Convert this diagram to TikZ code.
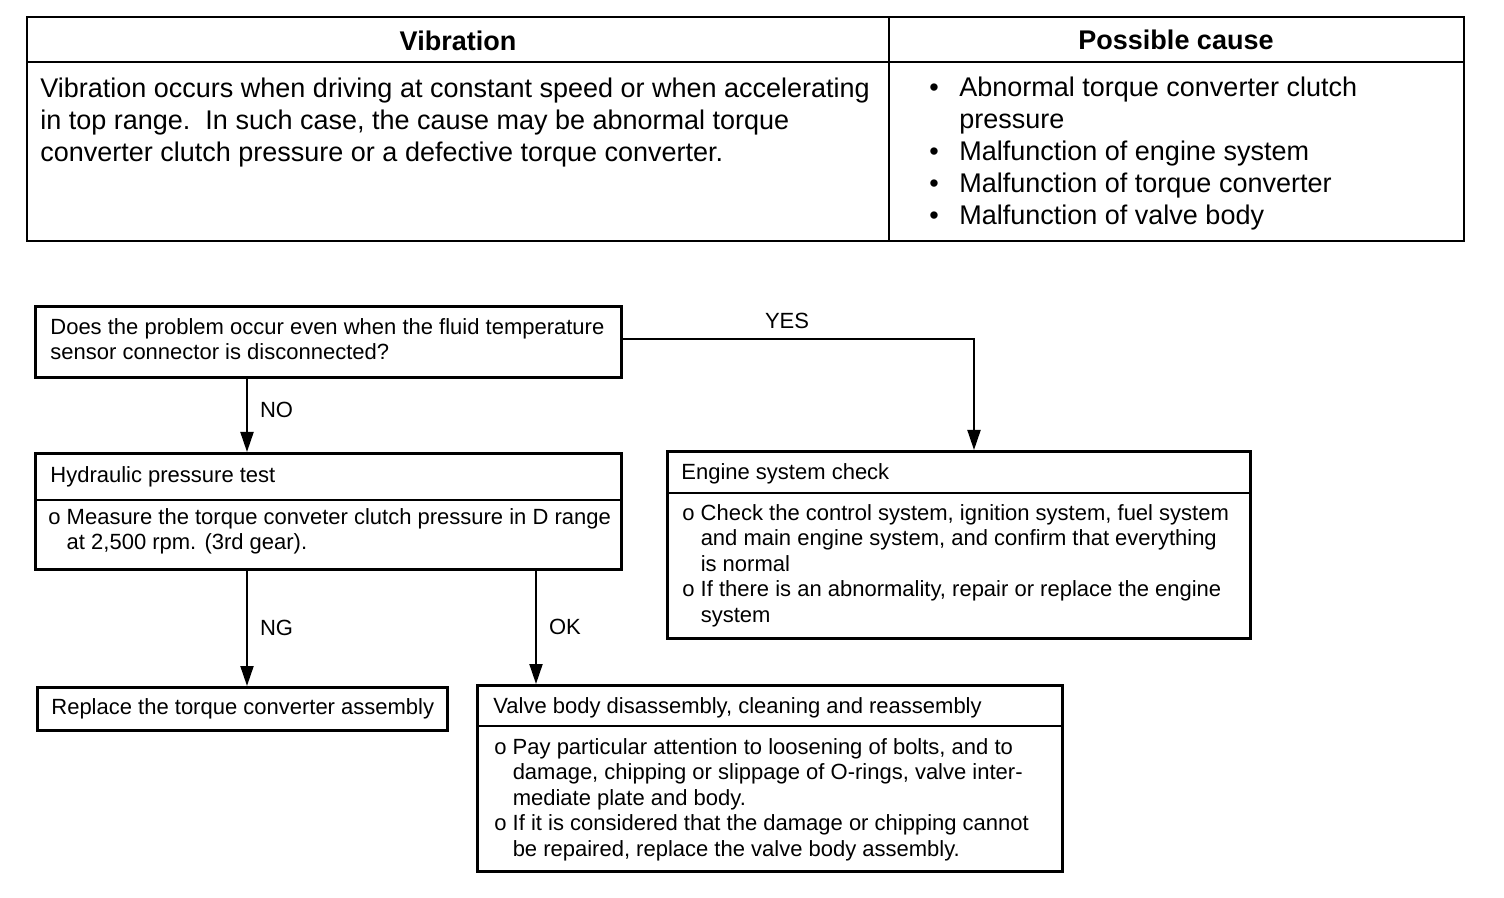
\documentclass[tikz,border=0pt]{standalone}
\usepackage{fontspec}
\setmainfont{Liberation Sans}
\usetikzlibrary{arrows.meta}
\newcommand\tblfont{\fontsize{13.5pt}{16pt}\selectfont}
\newcommand\flowfont{\fontsize{11pt}{12.75pt}\selectfont}
\newcommand\bul{\makebox[15pt][l]{\textbullet}}
\newcommand\bulsp{\hspace*{15pt}}
\newcommand\osp{\phantom{o\ }}
\begin{document}
\begin{tikzpicture}[x=0.5pt,y=-0.5pt,
  tblline/.style={line width=1pt},
  frame/.style={draw, line width=1.3pt, anchor=north west, inner sep=0pt},
  divline/.style={line width=1.1pt},
  ftxt/.style={anchor=north west, inner sep=0pt, align=left, font=\flowfont},
  ttxt/.style={anchor=north west, inner sep=0pt, align=left, font=\tblfont},
  thead/.style={inner sep=0pt, font=\tblfont\bfseries},
  arr/.style={line width=1pt, -{Triangle[length=10pt,width=6.5pt]}},
  lbl/.style={inner sep=0pt, font=\flowfont}]
\useasboundingbox (0,0) rectangle (1504,898);

% ---- table ----
\draw[tblline] (27,17) rectangle (1464,241);
\draw[tblline] (27,62) -- (1464,62);
\draw[tblline] (889,17) -- (889,241);
\node[thead] (h1) at (458,41) {Vibration};
\node[thead] (h2) at (1176,40) {Possible cause};
\node[ttxt] (t1) at (40,78) {Vibration occurs when driving at constant speed or when accelerating\\
in top range.\ \ In such case, the cause may be abnormal torque\\
converter clutch pressure or a defective torque converter.};
\node[ttxt] (t2) at (929,77) {\bul Abnormal torque converter clutch\\
\bulsp pressure\\
\bul Malfunction of engine system\\
\bul Malfunction of torque converter\\
\bul Malfunction of valve body};

% ---- flowchart boxes ----
\node[frame, minimum width=293pt, minimum height=35.5pt] (q) at (34,305) {};
\node[ftxt] (qt) at (50,318) {Does the problem occur even when the fluid temperature\\
sensor connector is disconnected?};

\node[frame, minimum width=293pt, minimum height=58pt] (h) at (34,452) {};
\draw[divline] (34,500) -- (620,500);
\node[ftxt] (ht) at (50,466) {Hydraulic pressure test};
\node[ftxt] (hb) at (48,508) {o Measure the torque conveter clutch pressure in D range\\
\osp at 2,500 rpm. (3rd gear).};

\node[frame, minimum width=291.5pt, minimum height=93.5pt] (e) at (666,450) {};
\draw[divline] (666,493) -- (1249,493);
\node[ftxt] (et) at (681,463) {Engine system check};
\node[ftxt] (eb) at (682,504) {o Check the control system, ignition system, fuel system\\
\osp and main engine system, and confirm that everything\\
\osp is normal\\
o If there is an abnormality, repair or replace the engine\\
\osp system};

\node[frame, minimum width=205pt, minimum height=21.5pt] (r) at (36,686) {};
\node[ftxt] (rt) at (51,698) {Replace the torque converter assembly};

\node[frame, minimum width=292.5pt, minimum height=93pt] (v) at (476,684) {};
\draw[divline] (476,726) -- (1061,726);
\node[ftxt] (vt) at (493,697) {Valve body disassembly, cleaning and reassembly};
\node[ftxt] (vb) at (494,738) {o Pay particular attention to loosening of bolts, and to\\
\osp damage, chipping or slippage of O-rings, valve inter-\\
\osp mediate plate and body.\\
o If it is considered that the damage or chipping cannot\\
\osp be repaired, replace the valve body assembly.};

% ---- connectors ----
\coordinate (cno) at (247,0);
\coordinate (cok) at (536,0);
\coordinate (cyes) at (974,450);
\coordinate (cy) at (0,339);

\draw[arr] (q.east |- cy) -| (cyes) node[lbl, pos=0.234, yshift=9pt] (lyes) {YES};
\draw[arr] (q.south -| cno) -- (h.north -| cno) node[lbl, pos=0.42, anchor=west, xshift=6pt] (lno) {NO};
\draw[arr] (h.south -| cno) -- (r.north -| cno) node[lbl, pos=0.5, anchor=west, xshift=6pt] (lng) {NG};
\draw[arr] (h.south -| cok) -- (v.north -| cok) node[lbl, pos=0.5, anchor=west, xshift=6pt] (lok) {OK};
\end{tikzpicture}
\end{document}
